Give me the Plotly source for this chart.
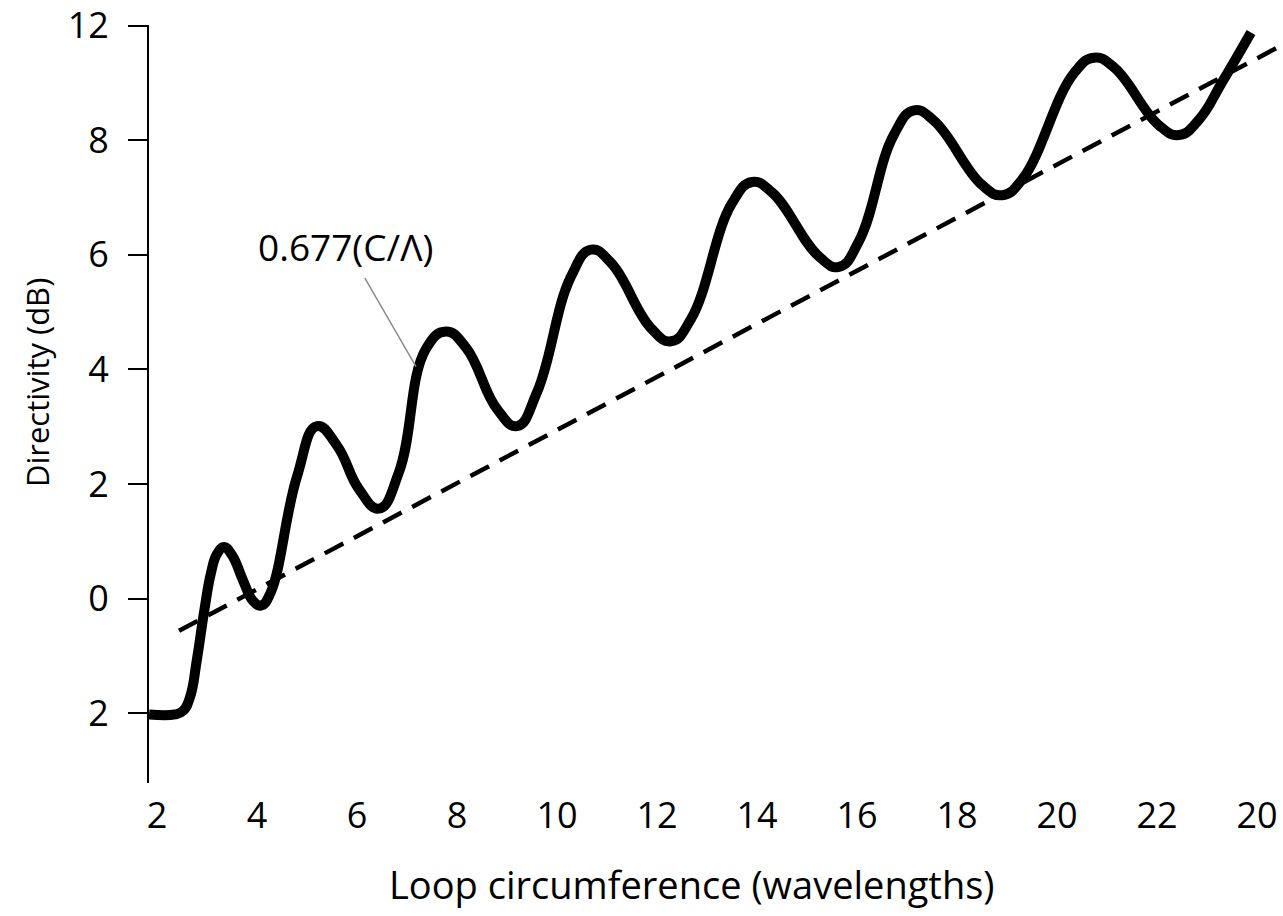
import plotly.graph_objects as go

# ---- data ----
curve_x = [1.84, 2.36, 2.52, 2.66, 2.80, 2.94, 3.08, 3.20, 3.34, 3.50, 3.72, 3.92, 4.08, 4.26,
           4.80, 5.20, 5.60, 6.04, 6.44, 6.84,
           7.38, 7.78, 8.18, 8.80, 9.20, 9.60,
           10.28, 10.68, 11.08, 11.88, 12.28, 12.68,
           13.50, 13.90, 14.30, 15.24, 15.64, 16.04,
           16.74, 17.14, 17.54, 18.50, 18.90, 19.30,
           20.34, 20.74, 21.14, 22.04, 22.44, 22.84,
           23.30, 23.88]
curve_y = [-2.02, -2.02, -1.96, -1.72, -1.05, -0.24, 0.45, 0.78, 0.90, 0.76, 0.32, -0.04, -0.12, 0.08,
           2.13, 3.01, 2.67, 1.91, 1.57, 2.21,
           4.36, 4.66, 4.38, 3.31, 3.01, 3.60,
           5.62, 6.09, 5.86, 4.72, 4.49, 4.88,
           6.90, 7.27, 7.09, 5.97, 5.79, 6.24,
           8.10, 8.52, 8.34, 7.22, 7.04, 7.31,
           9.17, 9.44, 9.27, 8.26, 8.09, 8.36,
           9.01, 9.88]

trend_x = [2.44, 24.48]
trend_y = [-0.56, 9.65]

x_tickvals = [2, 4, 6, 8, 10, 12, 14, 16, 18, 20, 22, 24]
x_ticktext = ["2", "4", "6", "8", "10", "12", "14", "16", "18", "20", "22", "20"]
y_tickvals = [-2, 0, 2, 4, 6, 8, 10]
y_ticktext = ["2", "0", "2", "4", "6", "8", "12"]

label_text = "0.677(C/Λ)"
label_pos = (5.76, 6.14)
leader_from = (6.14, 5.62)
leader_to = (7.18, 4.05)

x_title = "Loop circumference (wavelengths)"
y_title = "Directivity (dB)"

X_MIN, X_AXIS_END, X_VIEW_END = 1.84, 24.0, 24.52
Y_MIN, Y_MAX = -3.217, 10.01

FONT = "Open Sans"
TICK_FS = 36
XT_FS = 38
YT_FS = 31
LBL_FS = 37

fig = go.Figure()
fig.add_trace(go.Scatter(
    x=trend_x, y=trend_y, mode="lines",
    line=dict(color="black", width=4.5, dash="21px,12px"),
    hoverinfo="skip", showlegend=False))
fig.add_trace(go.Scatter(
    x=curve_x, y=curve_y, mode="lines",
    line=dict(color="black", width=10, shape="spline", smoothing=1.3),
    hoverinfo="skip", showlegend=False))

W, H = 1283, 916
L, R, T, B = 149, 0, 23, 133
plot_w = W - L - R
dom2_end = (X_AXIS_END - X_MIN) / (X_VIEW_END - X_MIN)

fig.update_layout(
    width=W, height=H,
    margin=dict(l=L, r=R, t=T, b=B, pad=0),
    paper_bgcolor="white", plot_bgcolor="white",
    font=dict(family=FONT, size=TICK_FS, color="black"),
    showlegend=False,
    xaxis=dict(
        domain=[0, 1], range=[X_MIN, X_VIEW_END],
        tickmode="array", tickvals=x_tickvals, ticktext=x_ticktext,
        ticks="", showline=False, showgrid=False, zeroline=False,
        ticklabelstandoff=8, ticklabeloverflow="allow",
        tickfont=dict(family=FONT, size=TICK_FS, color="black"),
    ),
    xaxis2=dict(
        domain=[0, dom2_end], range=[X_MIN, X_AXIS_END], anchor="y",
        tickmode="array", tickvals=x_tickvals[1:],
        ticks="inside", ticklen=18, tickwidth=2, tickcolor="black",
        showticklabels=False, showline=True, linewidth=2, linecolor="black",
        showgrid=False, zeroline=False,
    ),
    yaxis=dict(
        range=[Y_MIN, Y_MAX],
        tickmode="array", tickvals=y_tickvals, ticktext=y_ticktext,
        ticks="outside", ticklen=19, tickwidth=2, tickcolor="black",
        showline=True, linewidth=2, linecolor="black",
        showgrid=False, zeroline=False,
        ticklabelstandoff=12, ticklabeloverflow="allow",
        tickfont=dict(family=FONT, size=TICK_FS, color="black"),
    ),
)

fig.add_annotation(
    x=label_pos[0], y=label_pos[1], xref="x", yref="y", text=label_text,
    showarrow=False, font=dict(family=FONT, size=LBL_FS, color="black"))
fig.add_annotation(
    x=leader_to[0], y=leader_to[1], ax=leader_from[0], ay=leader_from[1],
    xref="x", yref="y", axref="x", ayref="y", text="",
    showarrow=True, arrowhead=0, arrowwidth=1.5, arrowcolor="#8c8c8c")

fig.add_annotation(
    x=(692 - L) / plot_w, y=(H - 884 - B) / (H - T - B), xref="paper", yref="paper",
    text=x_title, showarrow=False, xanchor="center", yanchor="middle",
    font=dict(family=FONT, size=XT_FS, color="black"))
fig.add_annotation(
    x=(37 - L) / plot_w, y=(H - 382 - B) / (H - T - B), xref="paper", yref="paper",
    text=y_title, showarrow=False, textangle=-90, xanchor="center", yanchor="middle",
    font=dict(family=FONT, size=YT_FS, color="black"))

fig.write_html(
    "out.html",
    config={"displayModeBar": False, "staticPlot": True},
    post_script="document.body.style.margin='0';document.body.style.overflow='hidden';")
